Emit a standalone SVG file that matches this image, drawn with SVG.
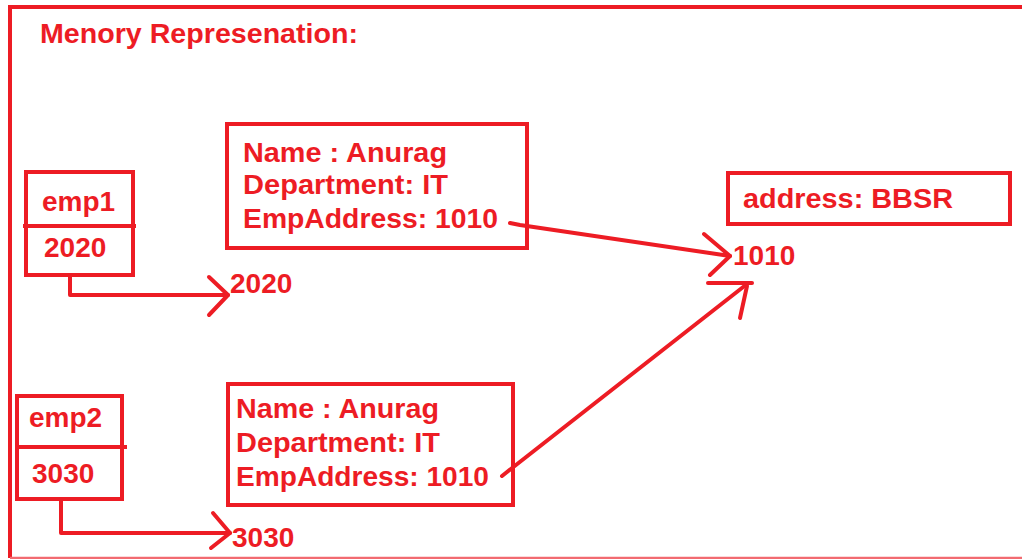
<svg xmlns="http://www.w3.org/2000/svg" width="1022" height="559" viewBox="0 0 1022 559">
<style>
  .bx{fill:none;stroke:#ed1c24;stroke-width:4}
  .ln{fill:none;stroke:#ed1c24;stroke-width:4;stroke-linecap:round;stroke-linejoin:round}
  text{font-family:"Liberation Sans",Arial,sans-serif;font-weight:bold;font-size:28px;fill:#ed1c24}
</style>
<rect width="1022" height="559" fill="#ffffff"/>
<g id="frame">
  <path d="M10 558 V7 H1022" class="bx" stroke-width="3.5"/>
  <line x1="10" y1="558" x2="1022" y2="558" stroke="#f26b71" stroke-width="2.5"/>
  <text x="40" y="43" textLength="318" lengthAdjust="spacingAndGlyphs">Menory Represenation:</text>
</g>
<g id="emp1">
  <rect x="26" y="172" width="107" height="103" class="bx"/>
  <line x1="23" y1="226" x2="136" y2="226" class="bx"/>
  <text x="42" y="211">emp1</text>
  <text x="44" y="257">2020</text>
</g>
<g id="emp2">
  <rect x="17" y="396" width="105" height="103" class="bx"/>
  <line x1="17" y1="447" x2="127" y2="447" class="bx"/>
  <text x="29" y="427">emp2</text>
  <text x="32" y="483">3030</text>
</g>
<g id="obj1">
  <rect x="227" y="124" width="300" height="124" class="bx"/>
  <text x="243" y="162" textLength="204" lengthAdjust="spacingAndGlyphs">Name : Anurag</text>
  <text x="243" y="194" textLength="205" lengthAdjust="spacingAndGlyphs">Department: IT</text>
  <text x="243" y="228" textLength="255" lengthAdjust="spacingAndGlyphs">EmpAddress: 1010</text>
</g>
<g id="obj2">
  <rect x="228" y="384" width="285" height="121" class="bx"/>
  <text x="236" y="418" textLength="203" lengthAdjust="spacingAndGlyphs">Name : Anurag</text>
  <text x="236" y="452" textLength="204" lengthAdjust="spacingAndGlyphs">Department: IT</text>
  <text x="236" y="486" textLength="253" lengthAdjust="spacingAndGlyphs">EmpAddress: 1010</text>
</g>
<g id="address">
  <rect x="728" y="173" width="282" height="51" class="bx"/>
  <text x="743" y="208" textLength="210" lengthAdjust="spacingAndGlyphs">address: BBSR</text>
</g>
<g id="labels">
  <text x="230" y="293">2020</text>
  <text x="232" y="547">3030</text>
  <text x="733" y="265">1010</text>
</g>
<g id="connectors">
  <path d="M70 275 V295 H228" class="ln"/>
  <polyline points="209,277 228,295 209,315" class="ln"/>
  <path d="M61 499 V533 H230" class="ln"/>
  <polyline points="213,513 230,533 211,548" class="ln"/>
  <path d="M510 223 L520 225 L730 256" class="ln"/>
  <polyline points="704,234 730,256 710,275" class="ln"/>
  <path d="M502 476 L507 472 L747 284" class="ln"/>
  <line x1="708" y1="283" x2="752" y2="283" class="ln"/>
  <line x1="747" y1="286" x2="740" y2="318" class="ln"/>
</g>
</svg>
